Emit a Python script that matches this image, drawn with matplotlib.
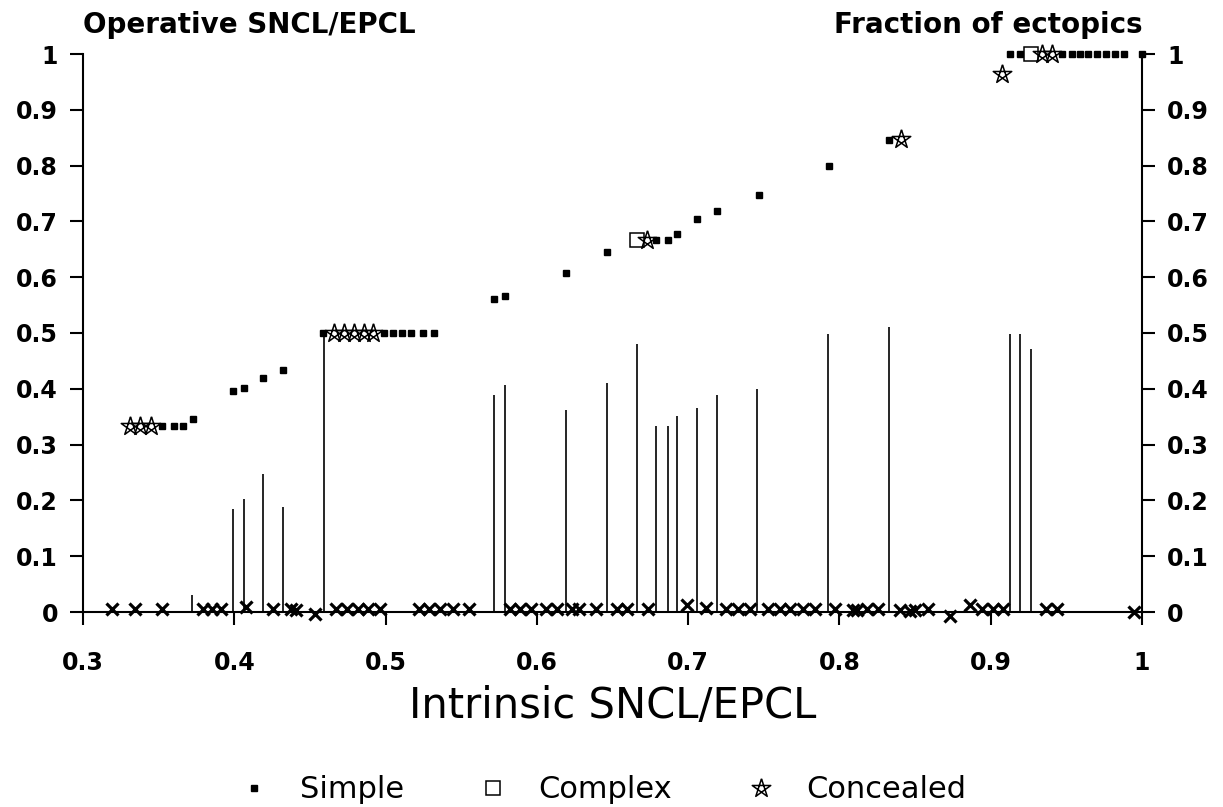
import numpy as np
import matplotlib.pyplot as plt
from matplotlib.path import Path

# operative SNCL/EPCL by type of ectopic
simple_x = [0.352, 0.360, 0.366, 0.3725, 0.3994, 0.4064, 0.4192, 0.432, 0.4588,
            0.499, 0.505, 0.511, 0.517, 0.525, 0.532, 0.5718, 0.5789, 0.619, 0.6463,
            0.679, 0.6864, 0.6926, 0.706, 0.7193, 0.7468, 0.7934, 0.833,
            0.9128, 0.9194, 0.9469, 0.9535, 0.959, 0.9645, 0.970, 0.9762, 0.982, 0.988, 1.0]
simple_y = [0.333, 0.333, 0.333, 0.345, 0.396, 0.402, 0.419, 0.433, 0.5,
            0.5, 0.5, 0.5, 0.5, 0.5, 0.5, 0.561, 0.567, 0.607, 0.645,
            0.667, 0.667, 0.677, 0.704, 0.718, 0.748, 0.800, 0.845,
            1, 1, 1, 1, 1, 1, 1, 1, 1, 1, 1]

complex_x = [0.666, 0.9266]
complex_y = [0.667, 1.0]

concealed_x = [0.331, 0.338, 0.345, 0.466, 0.4725, 0.479, 0.4857, 0.492,
               0.6726, 0.8407, 0.9077, 0.9336, 0.9402]
concealed_y = [0.333, 0.333, 0.333, 0.5, 0.5, 0.5, 0.5, 0.5,
               0.667, 0.848, 0.965, 1, 1]

# fraction of ectopics (vertical lines)
ectopic_x = [0.3718, 0.3994, 0.4064, 0.4192, 0.4324, 0.4593, 0.5718, 0.579, 0.619,
             0.6461, 0.6664, 0.679, 0.6864, 0.6926, 0.706, 0.7192, 0.7457, 0.7922,
             0.8327, 0.9127, 0.9193, 0.9266]
ectopic_frac = [0.030, 0.184, 0.202, 0.248, 0.189, 0.500, 0.388, 0.406, 0.362,
                0.411, 0.481, 0.334, 0.333, 0.351, 0.366, 0.388, 0.400, 0.498,
                0.510, 0.498, 0.498, 0.472]

# runs without ectopics (crosses on the baseline)
zero_x = [0.319, 0.3344, 0.3522, 0.3795, 0.3854, 0.3913, 0.408, 0.4257, 0.4376, 0.441,
          0.4535, 0.467, 0.4744, 0.4815, 0.4886, 0.496, 0.5218, 0.529, 0.536, 0.5444,
          0.555, 0.582, 0.589, 0.596, 0.606, 0.6132, 0.6235, 0.628, 0.639, 0.653,
          0.6598, 0.6737, 0.6994, 0.7118, 0.725, 0.733, 0.741, 0.753, 0.7607, 0.7673,
          0.776, 0.7838, 0.797, 0.809, 0.8113, 0.818, 0.8257, 0.84, 0.8466, 0.85,
          0.8587, 0.873, 0.8862, 0.894, 0.9017, 0.9083, 0.9365, 0.944, 0.995]
zero_y = [0.006, 0.006, 0.006, 0.006, 0.006, 0.006, 0.009, 0.006, 0.006, 0.004,
          -0.004, 0.006, 0.006, 0.006, 0.006, 0.006, 0.006, 0.006, 0.006, 0.006,
          0.006, 0.006, 0.006, 0.006, 0.006, 0.006, 0.006, 0.006, 0.006, 0.006,
          0.006, 0.005, 0.012, 0.008, 0.006, 0.006, 0.006, 0.006, 0.006, 0.006,
          0.006, 0.006, 0.006, 0.004, 0.004, 0.006, 0.006, 0.004, 0.001, 0.004,
          0.006, -0.008, 0.012, 0.005, 0.005, 0.005, 0.006, 0.006, 0.0]

xticks = [0.3, 0.4, 0.5, 0.6, 0.7, 0.8, 0.9, 1.0]
xtick_labels = ['0.3', '0.4', '0.5', '0.6', '0.7', '0.8', '0.9', '1']
yticks = [0, 0.1, 0.2, 0.3, 0.4, 0.5, 0.6, 0.7, 0.8, 0.9, 1.0]
ytick_labels = ['0', '0.1', '0.2', '0.3', '0.4', '0.5', '0.6', '0.7', '0.8', '0.9', '1']

# pentagram outline with crossing strokes
ang = np.deg2rad(90 + 144 * np.arange(6))
star = Path(np.column_stack([np.cos(ang), np.sin(ang)]))

W, H = 1223, 807
fig = plt.figure(figsize=(W / 100, H / 100), dpi=100)
ax = fig.add_axes([83 / W, 1 - 612 / H, (1142 - 83) / W, (612 - 54) / H])

ax.vlines(ectopic_x, 0, ectopic_frac, color='black', lw=1.2)
ax.plot(zero_x, zero_y, ls='none', marker='x', ms=8.5, mew=2.3, color='black', clip_on=False)
h1, = ax.plot(simple_x, simple_y, ls='none', marker='s', ms=4.5, color='black', clip_on=False)
h2, = ax.plot(complex_x, complex_y, ls='none', marker='s', ms=10, mfc='white', mec='black',
              mew=1.1, clip_on=False)
h3, = ax.plot(concealed_x, concealed_y, ls='none', marker=star, ms=14, mfc='none', mec='black',
              mew=1.1, clip_on=False)

ax.set_xlim(0.3, 1.0)
ax.set_ylim(0, 1)
ax.spines['top'].set_visible(False)
for s in ['left', 'right', 'bottom']:
    ax.spines[s].set_linewidth(1.5)

ax.tick_params(axis='y', direction='out', length=9.5, width=1.5, pad=8.5, labelsize=17,
               left=True, right=True, labelleft=True, labelright=True)
ax.tick_params(axis='x', direction='out', length=9, width=1.5, pad=19, labelsize=17)
ax.set_xticks(xticks, xtick_labels, fontweight='bold')
ax.set_yticks(yticks, ytick_labels, fontweight='bold')

ax.set_xlabel('Intrinsic SNCL/EPCL', fontsize=30, labelpad=7)

fig.text(83 / W, 1 - 33 / H, 'Operative SNCL/EPCL', ha='left', va='baseline',
         fontsize=20, fontweight='bold')
fig.text(1143 / W, 1 - 33 / H, 'Fraction of ectopics', ha='right', va='baseline',
         fontsize=20, fontweight='bold')

fig.legend([h1, h2, h3], ['Simple', 'Complex', 'Concealed'], loc='center left',
           bbox_to_anchor=(239 / W, 1 - 790 / H), ncol=3, frameon=False, fontsize=22,
           handlelength=1.0, handletextpad=1.0, columnspacing=2.4, borderpad=0,
           borderaxespad=0)

fig.savefig('out.png', dpi=100)
